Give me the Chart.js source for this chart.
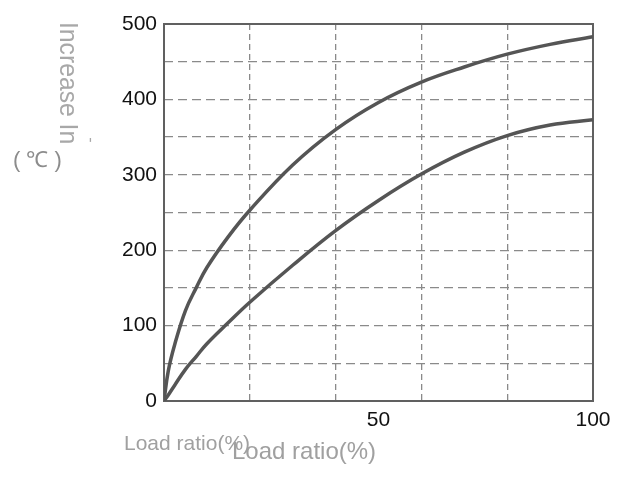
<!DOCTYPE html>
<html>
<head>
<meta charset="utf-8">
<script src="https://cdn.jsdelivr.net/npm/chart.js@4"></script>
<style>
  html, body { margin: 0; padding: 0; background: #fff; }
  #wrap { width: 627px; height: 481px; }
</style>
</head>
<body>
<div id="wrap"><canvas id="riseChart"></canvas></div>
<script>
// load ratio (%) and temperature rise (℃)
const loadRatio = [0, 1, 2.5, 5, 7.5, 10, 15, 20, 30, 40, 50, 60, 70, 80, 90, 100];
const upperRise = [0, 40, 75, 120, 150, 177, 218, 253, 313, 360, 396, 423, 443, 460, 473, 483];
const lowerRise = [0, 8, 21, 42, 59, 76, 104, 131, 180, 226, 266, 301, 330, 352, 366, 373];
const xTickLabels = [50, 100];
const yTickLabels = [0, 100, 200, 300, 400, 500];
const xGridValues = [20, 40, 60, 80];

const lineColor = '#555555';
const tickFont = { family: '"Liberation Sans", Arial, sans-serif', size: 21 };

function toPoints(ys) {
    return loadRatio.map((x, i) => ({ x: x, y: ys[i] }));
}

// draws the frame and the loose texts round the plot
const decorations = {
    id: 'decorations',
    beforeDatasetsDraw(chart) {
        const { ctx, chartArea: a } = chart;
        ctx.save();
        ctx.strokeStyle = '#606060';
        ctx.lineWidth = 2;
        ctx.strokeRect(a.left, a.top, a.right - a.left, a.bottom - a.top);
        ctx.restore();
    },
    afterDraw(chart) {
        const ctx = chart.ctx;
        ctx.save();
        ctx.fillStyle = '#a8a8a8';
        ctx.textBaseline = 'middle';

        // y title, reading top to bottom
        ctx.save();
        ctx.translate(67, 22);
        ctx.rotate(Math.PI / 2);
        ctx.scale(0.95, 1);
        ctx.font = '26px "Liberation Sans", Arial, sans-serif';
        ctx.textAlign = 'left';
        ctx.fillText('Increase In', 0, 0);
        ctx.restore();

        ctx.save();
        ctx.translate(90, 140);
        ctx.rotate(Math.PI / 2);
        ctx.font = '16px "Liberation Sans", Arial, sans-serif';
        ctx.textAlign = 'center';
        ctx.fillText('-', 0, 0);
        ctx.restore();

        ctx.fillStyle = '#8c8c8c';
        ctx.font = '22px "Liberation Sans", Arial, sans-serif';
        ctx.textAlign = 'left';
        ctx.fillText('( \u2103 )', 13, 161);

        ctx.fillStyle = '#a0a0a0';
        ctx.textBaseline = 'alphabetic';
        ctx.font = '21px "Liberation Sans", Arial, sans-serif';
        ctx.fillText('Load ratio(%)', 124, 450);
        ctx.font = '24px "Liberation Sans", Arial, sans-serif';
        ctx.fillText('Load ratio(%)', 232, 459);
        ctx.restore();
    }
};

const baseDataset = {
    borderColor: lineColor,
    borderWidth: 3.5,
    pointRadius: 0,
    fill: false,
    tension: 0.4
};

new Chart(document.getElementById('riseChart'), {
    type: 'line',
    data: {
        datasets: [
            Object.assign({ label: 'upper', data: toPoints(upperRise) }, baseDataset),
            Object.assign({ label: 'lower', data: toPoints(lowerRise) }, baseDataset)
        ]
    },
    options: {
        responsive: true,
        maintainAspectRatio: false,
        animation: false,
        layout: { padding: { left: 0, top: 24, right: 34, bottom: 0 } },
        plugins: {
            legend: { display: false },
            tooltip: { enabled: false }
        },
        scales: {
            x: {
                type: 'linear',
                min: 0,
                max: 100,
                afterBuildTicks: function(scale) {
                    scale.ticks = [0].concat(xGridValues, [50, 100])
                        .sort((p, q) => p - q)
                        .map(v => ({ value: v }));
                },
                afterFit: function(scale) { scale.height = 80; },
                border: { display: false, dash: [6, 4] },
                grid: {
                    drawTicks: false,
                    lineWidth: 1.3,
                    color: function(ctx) {
                        const v = ctx.tick && ctx.tick.value;
                        return xGridValues.includes(v) ? '#8a8a8a' : 'rgba(0,0,0,0)';
                    }
                },
                ticks: {
                    padding: 7,
                    maxRotation: 0,
                    autoSkip: false,
                    color: '#111',
                    font: tickFont,
                    callback: function(v) { return xTickLabels.includes(v) ? String(v) : ''; }
                }
            },
            y: {
                min: 0,
                max: 500,
                afterFit: function(scale) { scale.width = 164; },
                border: { display: false, dash: [9, 5] },
                grid: {
                    drawTicks: false,
                    lineWidth: 1.3,
                    color: function(ctx) {
                        const v = ctx.tick && ctx.tick.value;
                        return (v > 0 && v < 500) ? '#8a8a8a' : 'rgba(0,0,0,0)';
                    }
                },
                ticks: {
                    stepSize: 50,
                    padding: 7,
                    autoSkip: false,
                    color: '#111',
                    font: tickFont,
                    callback: function(v) { return yTickLabels.includes(v) ? String(v) : ''; }
                }
            }
        }
    },
    plugins: [decorations]
});
</script>
</body>
</html>
